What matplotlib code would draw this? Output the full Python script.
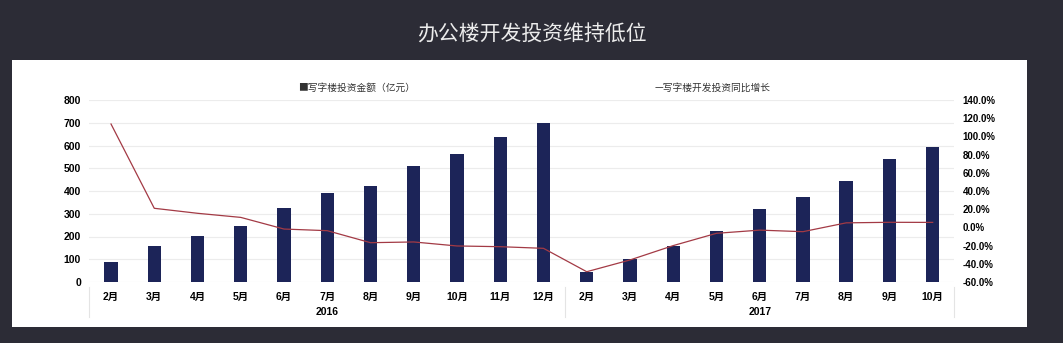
import matplotlib.pyplot as plt
import matplotlib.transforms as mtransforms
from matplotlib.patches import Rectangle
import numpy as np

plt.rcParams['font.family'] = ['Liberation Sans', 'Noto Sans CJK SC', 'DejaVu Sans']

# 数据
years = ['2016', '2017']
months_2016 = ['2月', '3月', '4月', '5月', '6月', '7月', '8月', '9月', '10月', '11月', '12月']
months_2017 = ['2月', '3月', '4月', '5月', '6月', '7月', '8月', '9月', '10月']
invest_2016 = [88, 157, 201, 244, 326, 391, 422, 508, 561, 637, 698]
invest_2017 = [42, 99, 159, 226, 320, 374, 443, 539, 592]
growth_2016 = [113.6, 21.0, 15.5, 11.0, -1.8, -3.6, -16.8, -16.0, -20.4, -21.2, -23.0]
growth_2017 = [-48.7, -35.8, -20.0, -6.5, -3.0, -4.7, 5.0, 5.6, 5.5]

labels = months_2016 + months_2017
invest = invest_2016 + invest_2017
growth = growth_2016 + growth_2017
x = np.arange(len(labels))

bg = '#2c2c36'
navy = '#1c2458'
red = '#a33a45'

fig = plt.figure(figsize=(10.63, 3.43), dpi=100, facecolor=bg)
# 白色面板
fig.patches.append(Rectangle((12 / 1063, 1 - 327 / 343), (1027 - 12) / 1063, (327 - 60) / 343,
                             transform=fig.transFigure, facecolor='white', edgecolor='none', zorder=-5))
fig.text(0.5, 1 - 35 / 343, '办公楼开发投资维持低位', color='#ececec', fontsize=15,
         ha='center', va='center', family=['Noto Sans CJK SC'])

ax = fig.add_axes([89.4 / 1063, 1 - 282 / 343, (954.3 - 89.4) / 1063, 182 / 343])
ax.set_facecolor('none')
ax.bar(x, invest, width=0.31, color=navy, zorder=3)
ax.set_xlim(-0.5, len(labels) - 0.5)
ax.set_ylim(0, 800)
ax.set_yticks(np.arange(0, 801, 100))
ax.grid(axis='y', color='#ececec', linewidth=0.8, zorder=0)
for s in ax.spines.values():
    s.set_visible(False)
ax.tick_params(axis='y', length=0, labelsize=7.5, pad=6)
ax.tick_params(axis='x', length=0, labelsize=7.5, pad=7)
ax.set_xticks(x)
ax.set_xticklabels(labels)
for t in ax.get_xticklabels() + ax.get_yticklabels():
    t.set_fontweight('bold')

ax2 = ax.twinx()
ax2.plot(x, growth, color=red, linewidth=0.9, zorder=4)
ax2.set_ylim(-60, 140)
ax2.set_yticks(np.arange(-60, 141, 20))
ax2.set_yticklabels([f'{v:.1f}%' for v in np.arange(-60, 141, 20)])
for s in ax2.spines.values():
    s.set_visible(False)
ax2.tick_params(axis='y', length=0, labelsize=7, pad=6)
for t in ax2.get_yticklabels():
    t.set_fontweight('bold')

# 年份分组
trans = mtransforms.blended_transform_factory(ax.transData, ax.transAxes)
n16 = len(months_2016)
for xs in [-0.5, n16 - 0.5, len(labels) - 0.5]:
    ax.plot([xs, xs], [-0.03, -0.19], color='#e4e4e4', linewidth=0.8, transform=trans, clip_on=False)
ax.text((n16 - 1) / 2, -0.165, years[0], transform=trans, ha='center', va='center',
        fontsize=7.5, fontweight='bold')
ax.text(n16 + (len(months_2017) - 1) / 2, -0.165, years[1], transform=trans, ha='center', va='center',
        fontsize=7.5, fontweight='bold')

# 图例
fig.text(357 / 1063, 1 - 88 / 343, '■写字楼投资金额（亿元）', fontsize=7, ha='center', va='center',
         color='#333333', family=['Noto Sans CJK SC', 'DejaVu Sans'])
fig.text(713 / 1063, 1 - 88 / 343, '—写字楼开发投资同比增长', fontsize=7, ha='center', va='center',
         color='#333333', family=['Noto Sans CJK SC', 'DejaVu Sans'])

fig.savefig('out.png', dpi=100, facecolor=bg)
